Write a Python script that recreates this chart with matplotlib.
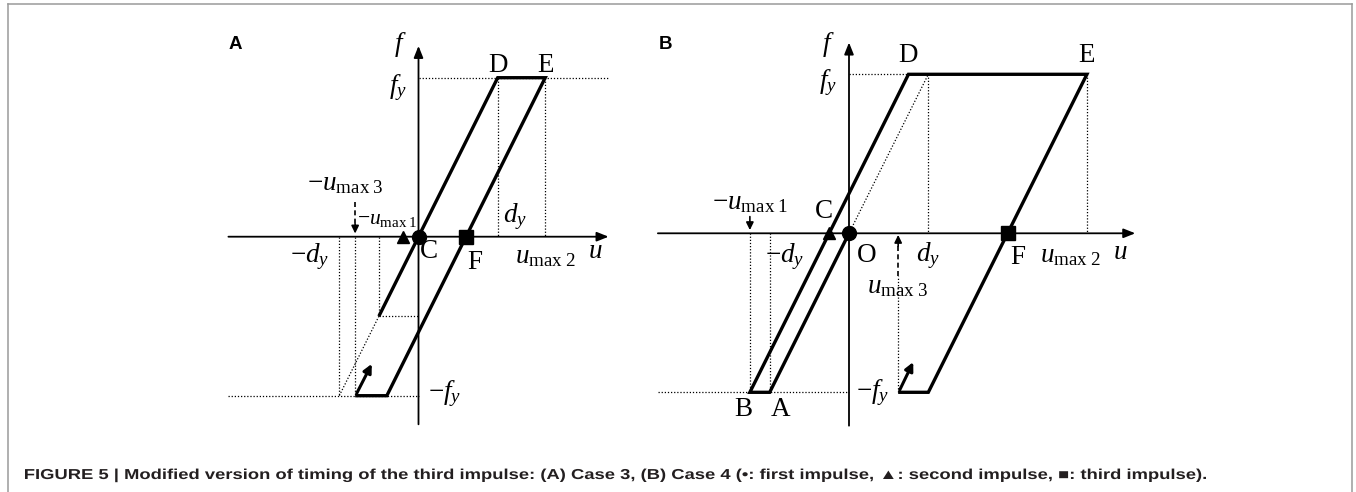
import numpy as np
import matplotlib
matplotlib.use('Agg')
import matplotlib.pyplot as plt
import matplotlib.transforms as mtransforms
from matplotlib.lines import Line2D
from matplotlib.textpath import TextPath
from matplotlib.patches import PathPatch
from matplotlib.font_manager import FontProperties

plt.rcParams['mathtext.fontset'] = 'custom'
plt.rcParams['mathtext.rm'] = 'Liberation Serif'
plt.rcParams['mathtext.it'] = 'Liberation Serif:italic'
plt.rcParams['font.family'] = 'Liberation Serif'

# units: displacement in d_y, force in f_y
# panel A (case 3)
a_loop_u = [-0.5, 1.0, 1.6, -0.4, -0.8]
a_loop_f = [-0.5, 1.0, 1.0, -1.0, -1.0]
a_first = (0.0, 0.0)
a_second = (-0.2, 0.0)
a_third = (0.6, 0.0)
a_umax1, a_umax2, a_umax3 = -0.5, 1.6, -0.8

# panel B (case 4)
b_loop_u = [0.0, -1.0, -1.25, 0.75, 3.0, 1.0, 0.62]
b_loop_f = [0.0, -1.0, -1.0, 1.0, 1.0, -1.0, -1.0]
b_first = (0.0, 0.0)
b_second = (-0.25, 0.0)
b_third = (2.0, 0.0)
b_umax1, b_umax2, b_umax3 = -1.25, 3.0, 0.62

caption = ('FIGURE 5 | Modified version of timing of the third impulse: (A) Case 3, (B) Case 4 '
           '(\u2022: first impulse, \u25b2: second impulse, \u25a0: third impulse).')

W, H = 1356, 492
fig = plt.figure(figsize=(W / 100, H / 100), dpi=100)

LW_THICK = 2.4
LW_AX = 1.3
DOT = dict(color='k', lw=0.9, ls=(0, (1, 1.5)))
FS = 19.5
UM1 = r'u_{\mathrm{max\;1}}'
UM2 = r'u_{\mathrm{max\;2}}'
UM3 = r'u_{\mathrm{max\;3}}'


def panel(ox, oy, sx, sy, xlim, ylim):
    left = ox + xlim[0] * sx
    width = (xlim[1] - xlim[0]) * sx
    top = oy - ylim[1] * sy
    height = (ylim[1] - ylim[0]) * sy
    ax = fig.add_axes([left / W, 1 - (top + height) / H, width / W, height / H])
    ax.set_xlim(xlim)
    ax.set_ylim(ylim)
    ax.axis('off')
    return ax


def arrow(ax, start, tip, lw=LW_AX, hl=0.7, hw=0.28):
    ax.annotate('', xy=tip, xytext=start,
                arrowprops=dict(arrowstyle=f'-|>,head_length={hl},head_width={hw}',
                                lw=lw, color='k', shrinkA=0, shrinkB=0))


def lab(ax, x, y, s, size=FS, ha='center', va='center', **kw):
    ax.text(x, y, s, fontsize=size, ha=ha, va=va, clip_on=False, **kw)


def marks(ax, first, second, third):
    ax.plot(*first, 'o', color='k', ms=10, zorder=5)
    ax.plot(*second, '^', color='k', ms=9, zorder=5)
    ax.plot(*third, 's', color='k', ms=9.5, zorder=5)


# ---------------- panel A ----------------
axA = panel(418.5, 236.7, 79.2, 159, (-2.6, 2.8), (-1.3, 1.4))
arrow(axA, (-2.4, 0), (2.4, 0))
arrow(axA, (0, -1.18), (0, 1.2))
axA.plot([0, 2.4], [1, 1], **DOT)
axA.plot([-2.4, 0], [-1, -1], **DOT)
axA.plot([a_umax1, 0], [a_umax1, a_umax1], **DOT)
axA.plot([a_umax1, -1], [a_umax1, -1], **DOT)
for u, f0, f1 in [(-1, 0, -1), (a_umax3, 0, -1), (a_umax1, 0, a_umax1), (1, 1, 0), (a_umax2, 1, 0)]:
    axA.plot([u, u], [f0, f1], **DOT)
axA.plot(a_loop_u, a_loop_f, color='k', lw=LW_THICK, solid_joinstyle='miter', solid_capstyle='butt')
arrow(axA, (-0.78, -0.985), (-0.59, -0.80), lw=2.2, hl=0.5, hw=0.25)
axA.plot([a_umax3, a_umax3], [0.22, 0.07], color='k', lw=1.2, ls=(0, (3, 2)))
arrow(axA, (a_umax3, 0.08), (a_umax3, 0.02), lw=1.2, hl=0.45, hw=0.22)
marks(axA, a_first, a_second, a_third)

lab(axA, -2.317, 1.206, 'A', size=13.5, family='Liberation Sans', weight='bold')
lab(axA, -0.234, 1.206, r'$f$')
lab(axA, -0.26, 0.94, r'$f_y$')
lab(axA, 0.335, -0.985, r'$-f_y$')
lab(axA, 1.0, 1.036, 'D', va='baseline')
lab(axA, 1.6, 1.036, 'E', va='baseline')
lab(axA, 1.22, 0.124, r'$d_y$')
lab(axA, 1.6, -0.128, '$' + UM2 + '$')
lab(axA, 2.23, -0.09, r'$u$')
lab(axA, 0.13, -0.096, 'C')
lab(axA, 0.71, -0.165, 'F')
lab(axA, -1.37, -0.128, r'$-d_y$')
lab(axA, -0.93, 0.331, '$-' + UM3 + '$')
lab(axA, -0.4, 0.111, '$-' + UM1 + '$', size=15.5)

# ---------------- panel B ----------------
axB = panel(849, 233.3, 79.3, 159, (-2.8, 3.9), (-1.3, 1.4))
arrow(axB, (-2.41, 0), (3.61, 0))
arrow(axB, (0, -1.21), (0, 1.2))
axB.plot([0, 0.75], [1, 1], **DOT)
axB.plot([-2.41, 0], [-1, -1], **DOT)
axB.plot([0, 1], [0, 1], **DOT)
for u, f0, f1 in [(b_umax1, 0, -1), (-1, 0, -1), (1, 1, 0), (b_umax2, 1, 0), (b_umax3, -1, -0.27)]:
    axB.plot([u, u], [f0, f1], **DOT)
axB.plot(b_loop_u, b_loop_f, color='k', lw=LW_THICK, solid_joinstyle='miter', solid_capstyle='butt')
arrow(axB, (0.64, -0.985), (0.81, -0.81), lw=2.2, hl=0.5, hw=0.25)
axB.plot([b_umax3, b_umax3], [-0.27, -0.07], color='k', lw=1.2, ls=(0, (3, 2)))
arrow(axB, (b_umax3, -0.08), (b_umax3, -0.01), lw=1.2, hl=0.45, hw=0.22)
arrow(axB, (b_umax1, 0.105), (b_umax1, 0.02), lw=1.2, hl=0.45, hw=0.22)
marks(axB, b_first, b_second, b_third)

lab(axB, -2.32, 1.185, 'B', size=13.5, family='Liberation Sans', weight='bold')
lab(axB, -0.265, 1.185, r'$f$')
lab(axB, -0.265, 0.945, r'$f_y$')
lab(axB, 0.75, 1.077, 'D', va='baseline')
lab(axB, 3.0, 1.077, 'E', va='baseline')
lab(axB, -1.25, 0.191, '$-' + UM1 + '$')
lab(axB, -0.315, 0.134, 'C')
lab(axB, -0.807, -0.149, r'$-d_y$')
lab(axB, 0.227, -0.137, 'O')
lab(axB, 1.0, -0.143, r'$d_y$')
lab(axB, 0.605, -0.338, '$' + UM3 + '$')
lab(axB, 2.13, -0.155, 'F')
lab(axB, 2.79, -0.143, '$' + UM2 + '$')
lab(axB, 3.42, -0.118, r'$u$')
lab(axB, 0.303, -1.005, r'$-f_y$')
lab(axB, -1.337, -1.11, 'B')
lab(axB, -0.857, -1.11, 'A')

# frame
gray = '#9a9a9a'
fig.add_artist(Line2D([8 / W, 8 / W], [0, 1 - 4 / H], color=gray, lw=1.1))
fig.add_artist(Line2D([1352 / W, 1352 / W], [0, 1 - 4 / H], color=gray, lw=1.1))
fig.add_artist(Line2D([8 / W, 1352 / W], [1 - 4 / H, 1 - 4 / H], color=gray, lw=1.1))

# caption: the printed caption is set wider than the plain font, so stretch it to its width
fp = FontProperties(family=['Liberation Sans', 'DejaVu Sans'], weight='bold')
tp = TextPath((0, 0), caption, size=14.4, prop=fp)
ext = tp.get_extents()
stretch = (1206 - 25) / ext.width
cap_tr = mtransforms.Affine2D().translate(-ext.x0, 0).scale(stretch, 1.0).translate(25, H - 479)
fig.add_artist(PathPatch(tp, transform=cap_tr, facecolor='#231f20', edgecolor='none'))

fig.savefig('out.png', dpi=100)
